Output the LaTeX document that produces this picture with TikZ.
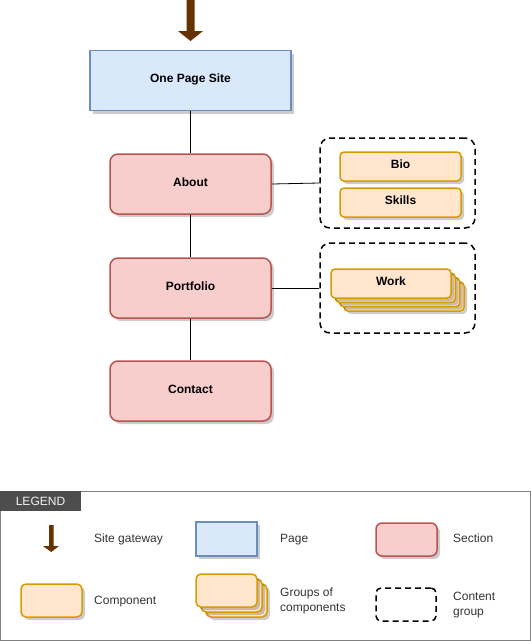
\documentclass[tikz,border=0pt]{standalone}
\usepackage{fontspec}
\setmainfont{Liberation Sans}
\usetikzlibrary{shadows}
\definecolor{pagefill}{HTML}{DAE8FC}
\definecolor{pagedraw}{HTML}{6C8EBF}
\definecolor{secfill}{HTML}{F8CECC}
\definecolor{secdraw}{HTML}{B85450}
\definecolor{compfill}{HTML}{FFE6CC}
\definecolor{compdraw}{HTML}{D79B00}
\definecolor{gate}{HTML}{663300}
\definecolor{legdark}{HTML}{4D4D4D}
\definecolor{legtext}{HTML}{333333}
\definecolor{legborder}{HTML}{808080}
\begin{document}
\begin{tikzpicture}[x=1pt,y=-1pt,
  shad/.style={drop shadow={shadow xshift=3pt,shadow yshift=-3pt,fill=black,opacity=0.2}},
  boldtxt/.style={font=\fontsize{12}{14}\selectfont\bfseries,text height=8.8pt,text depth=4.4pt},
  pagebox/.style={draw=pagedraw,fill=pagefill,line width=1.5pt,shad,boldtxt,inner sep=0pt},
  secbox/.style={draw=secdraw,fill=secfill,line width=1.5pt,rounded corners=8pt,shad,boldtxt,inner sep=0pt},
  compbox/.style={draw=compdraw,fill=compfill,line width=1.5pt,rounded corners=4pt,shad,boldtxt,inner sep=0pt},
  groupbox/.style={draw=black,dash pattern=on 6pt off 4pt,line width=1.5pt,rounded corners=10pt,inner sep=0pt},
  conn/.style={draw=black,line width=0.8pt},
  legtxt/.style={font=\fontsize{12}{14}\selectfont,text=legtext,anchor=base west,inner sep=0pt},
  legtxttwo/.style={font=\fontsize{12}{15}\selectfont,text=legtext,anchor=west,inner sep=0pt,align=left},
  gatefill/.style={fill=gate,draw=none}
]
\useasboundingbox (0,0) rectangle (531,641);

% site gateway arrow
\fill[gatefill] (186.5,0) -- (194.5,0) -- (194.5,31) -- (203,31) -- (190.5,41)
  -- (178,31) -- (186.5,31) -- cycle;

% main column
\node[pagebox,minimum width=201pt,minimum height=60pt] (page) at (190.5,80.5) {One Page Site};
\node[secbox,minimum width=161pt,minimum height=60pt] (about) at (190.5,184) {About};
\node[secbox,minimum width=161pt,minimum height=60pt] (portfolio) at (190.5,288) {Portfolio};
\node[secbox,minimum width=161pt,minimum height=60pt] (contact) at (190.5,391) {Contact};

% about group
\node[groupbox,minimum width=155pt,minimum height=90pt] (aboutgrp) at (397.5,183) {};
\node[compbox,minimum width=121pt,minimum height=29pt] (bio) at (400.5,166.5) {Bio};
\node[compbox,minimum width=121pt,minimum height=29pt] (skills) at (400.5,202.5) {Skills};

% portfolio group
\node[groupbox,minimum width=155pt,minimum height=90pt] (workgrp) at (397.5,288) {};
\node[compbox,minimum width=120pt,minimum height=29pt] (work3) at (404,296.5) {};
\node[compbox,minimum width=120pt,minimum height=29pt] (work2) at (399.7,292.2) {};
\node[compbox,minimum width=120pt,minimum height=29pt] (work1) at (395.3,287.8) {};
\node[compbox,minimum width=120pt,minimum height=29pt] (work) at (391,283.5) {Work};

% connectors
\draw[conn] (page.south) -- (about.north);
\draw[conn] (about.south) -- (portfolio.north);
\draw[conn] (portfolio.south) -- (contact.north);
\draw[conn] (about.east) -- (aboutgrp.west);
\draw[conn] (portfolio.east) -- (workgrp.west);

% legend
\draw[legborder,line width=1pt] (0.5,491) rectangle (530.5,640.5);
\node[fill=legdark,minimum width=81pt,minimum height=20pt,inner sep=0pt,
  text=white!95!black,font=\fontsize{12}{14}\selectfont] (legtitle) at (40.5,501) {LEGEND};

\fill[gatefill] (49,525) -- (53.5,525) -- (53.5,546) -- (59,546) -- (51.25,552)
  -- (43,546) -- (49,546) -- cycle;
\node[legtxt] (lgate) at (94,542.3) {Site gateway};

\node[pagebox,minimum width=61pt,minimum height=34pt] (lpage) at (226.5,539) {};
\node[legtxt] (lpagetxt) at (280,542.3) {Page};

\node[secbox,rounded corners=6pt,minimum width=61pt,minimum height=33pt] (lsec) at (406.5,539.5) {};
\node[legtxt] (lsectxt) at (453,542.3) {Section};

\node[compbox,rounded corners=5pt,minimum width=61pt,minimum height=33pt] (lcomp) at (51.5,600.5) {};
\node[legtxt] (lcomptxt) at (94,604.3) {Component};

\node[compbox,rounded corners=5pt,minimum width=61pt,minimum height=33pt] (lgrp3) at (236.5,600.5) {};
\node[compbox,rounded corners=5pt,minimum width=61pt,minimum height=33pt] (lgrp2) at (231.5,595.5) {};
\node[compbox,rounded corners=5pt,minimum width=61pt,minimum height=33pt] (lgrp1) at (226.5,590.5) {};
\node[legtxttwo] (lgrptxt) at (280,601) {Groups of\\components};

\node[groupbox,rounded corners=5pt,minimum width=60pt,minimum height=33pt] (lcg) at (406,604.5) {};
\node[legtxttwo] (lcgtxt) at (453,605) {Content\\group};
\end{tikzpicture}
\end{document}
